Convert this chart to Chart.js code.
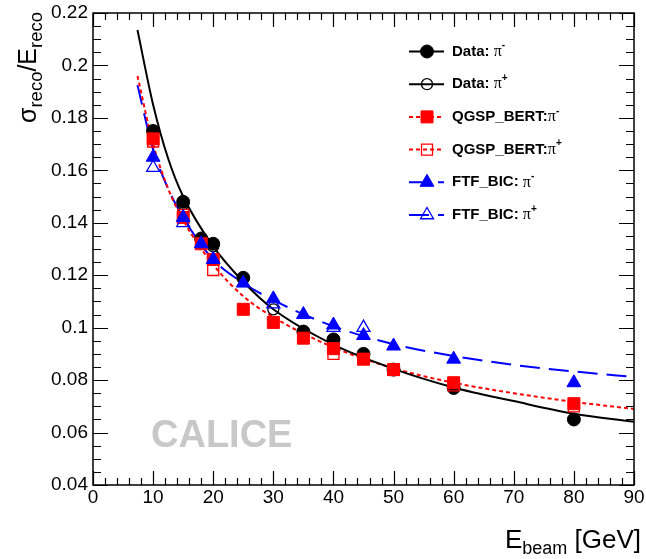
<!DOCTYPE html>
<html>
<head>
<meta charset="UTF-8">
<title>Energy resolution</title>
<style>
  html, body { margin: 0; padding: 0; background: #fff; }
  canvas { display: block; }
</style>
</head>
<body>
<canvas id="c" width="646" height="559"></canvas>
<script src="https://cdn.jsdelivr.net/npm/chart.js"></script>
<script>
// measured points
const dataMinusE = [10, 15, 18, 20, 25, 35, 40, 45, 50, 60, 80];
const dataMinus  = [0.175, 0.148, 0.134, 0.132, 0.119, 0.0985, 0.0955, 0.090, 0.084, 0.077, 0.065];
const dataPlusE  = [10, 15, 20, 30, 40, 50];
const dataPlus   = [0.174, 0.147, 0.131, 0.107, 0.094, 0.084];

const qgspMinusE = [10, 15, 18, 20, 25, 30, 35, 40, 45, 50, 60, 80];
const qgspMinus  = [0.172, 0.142, 0.132, 0.126, 0.107, 0.102, 0.096, 0.092, 0.088, 0.084, 0.079, 0.071];
const qgspPlusE  = [10, 15, 20, 40, 45, 50, 60, 80];
const qgspPlus   = [0.171, 0.143, 0.122, 0.090, 0.088, 0.084, 0.078, 0.070];

const ftfMinusE  = [10, 15, 18, 20, 25, 30, 35, 40, 45, 50, 60, 80];
const ftfMinus   = [0.165, 0.142, 0.132, 0.126, 0.117, 0.111, 0.105, 0.101, 0.097, 0.093, 0.088, 0.079];
const ftfPlusE   = [10, 15, 30, 40, 45];
const ftfPlus    = [0.161, 0.140, 0.109, 0.100, 0.100];

// fitted curves
const fitE    = [7.4, 10, 12.5, 15, 20, 25, 30, 40, 50, 60, 70, 80, 90];
const dataFit = [0.2135, 0.185, 0.1645, 0.150, 0.131, 0.1175, 0.107, 0.0935, 0.0843, 0.0772, 0.0720, 0.0672, 0.0641];
const qgspFit = [0.196, 0.170, 0.153, 0.141, 0.124, 0.112, 0.104, 0.0925, 0.0845, 0.079, 0.075, 0.0717, 0.069];
const ftfFit  = [0.1925, 0.168, 0.153, 0.142, 0.126, 0.117, 0.1105, 0.1005, 0.0937, 0.0892, 0.0858, 0.0833, 0.0812];

// axis ticks
const xTickVals   = [0, 10, 20, 30, 40, 50, 60, 70, 80, 90];
const xTickLabels = ['0', '10', '20', '30', '40', '50', '60', '70', '80', '90'];
const yTickVals   = [0.04, 0.06, 0.08, 0.10, 0.12, 0.14, 0.16, 0.18, 0.20, 0.22];
const yTickLabels = ['0.04', '0.06', '0.08', '0.1', '0.12', '0.14', '0.16', '0.18', '0.2', '0.22'];

const SANS = '"Liberation Sans", Arial, Helvetica, sans-serif';
const SERIF = '"Liberation Serif", "Times New Roman", serif';
const RED = '#ff0000', BLUE = '#0000ff', BLACK = '#000000';
const NONE = 'rgba(0,0,0,0)';

const pts = (xs, ys) => xs.map((x, i) => ({ x: x, y: ys[i] }));

function curve(xs, ys, color, dash, order) {
  return {
    data: pts(xs, ys), showLine: true, pointRadius: 0, borderColor: color,
    borderWidth: 2, borderDash: dash, cubicInterpolationMode: 'monotone',
    fill: false, order: order
  };
}
function marks(xs, ys, color, style, radius, filled, order) {
  return {
    data: pts(xs, ys), showLine: false, pointStyle: style, pointRadius: radius,
    backgroundColor: filled ? color : NONE, borderColor: color,
    borderWidth: filled ? 1 : 1.3, order: order
  };
}

// legend rows: [text, charge, marker style, color, filled, dash]
const legendRows = [
  ['Data: ', '-', 'circle', BLACK, true, []],
  ['Data: ', '+', 'circle', BLACK, false, []],
  ['QGSP_BERT:', '-', 'rect', RED, true, [4, 3]],
  ['QGSP_BERT:', '+', 'rect', RED, false, [4, 3]],
  ['FTF_BIC: ', '-', 'triangle', BLUE, true, [20, 9]],
  ['FTF_BIC: ', '+', 'triangle', BLUE, false, [20, 9]]
];

function drawMarker(ctx, style, x, y, color, filled) {
  ctx.save();
  ctx.fillStyle = color; ctx.strokeStyle = color;
  ctx.lineWidth = filled ? 1 : 1.3;
  ctx.setLineDash([]);
  ctx.beginPath();
  if (style === 'circle') {
    ctx.arc(x, y, filled ? 6.5 : 5.5, 0, Math.PI * 2);
  } else if (style === 'rect') {
    const s = filled ? 6 : 5.5;
    ctx.rect(x - s, y - s, 2 * s, 2 * s);
  } else {
    const r = filled ? 8 : 7.5;
    ctx.moveTo(x, y - r);
    ctx.lineTo(x + r * 0.866, y + r * 0.5);
    ctx.lineTo(x - r * 0.866, y + r * 0.5);
    ctx.closePath();
  }
  if (filled) ctx.fill();
  ctx.stroke();
  ctx.restore();
}

// draw a run of text pieces [text, font, dy]
function rich(ctx, parts, x, y, measureOnly) {
  let w = 0;
  for (const p of parts) {
    ctx.font = p[1];
    if (!measureOnly) ctx.fillText(p[0], x + w, y + p[2]);
    w += ctx.measureText(p[0]).width;
  }
  return w;
}

const rootFrame = {
  id: 'rootFrame',
  beforeDatasetsDraw(chart) {
    const ctx = chart.ctx;
    ctx.save();
    ctx.fillStyle = '#c8c8c8';
    ctx.font = 'bold 38px ' + SANS;
    ctx.textBaseline = 'alphabetic';
    ctx.fillText('CALICE', 151, 447);
    ctx.restore();
  },
  afterDatasetsDraw(chart) {
    const ctx = chart.ctx, a = chart.chartArea;
    const xs = chart.scales.x, ys = chart.scales.y;
    ctx.save();
    ctx.strokeStyle = BLACK;
    ctx.lineWidth = 1.5;
    ctx.setLineDash([]);
    ctx.strokeRect(a.left, a.top, a.right - a.left, a.bottom - a.top);

    // inward ticks on all four sides
    ctx.lineWidth = 1.2;
    ctx.beginPath();
    for (let i = 0; i <= 45; i++) {
      const px = Math.round(xs.getPixelForValue(i * 2)) + 0.5;
      const len = i % 5 === 0 ? 14 : 7;
      ctx.moveTo(px, a.bottom); ctx.lineTo(px, a.bottom - len);
      ctx.moveTo(px, a.top); ctx.lineTo(px, a.top + len);
    }
    for (let i = 0; i <= 36; i++) {
      const py = Math.round(ys.getPixelForValue(0.04 + i * 0.005)) + 0.5;
      const len = i % 4 === 0 ? 15 : 8;
      ctx.moveTo(a.left, py); ctx.lineTo(a.left + len, py);
      ctx.moveTo(a.right, py); ctx.lineTo(a.right - len, py);
    }
    ctx.stroke();

    // tick labels
    ctx.fillStyle = BLACK;
    ctx.font = '19px ' + SANS;
    ctx.textAlign = 'center'; ctx.textBaseline = 'top';
    xTickVals.forEach((v, i) => ctx.fillText(xTickLabels[i], xs.getPixelForValue(v), a.bottom + 3));
    ctx.textAlign = 'right'; ctx.textBaseline = 'middle';
    yTickVals.forEach((v, i) => ctx.fillText(yTickLabels[i], a.left - 5, ys.getPixelForValue(v)));

    // axis titles
    ctx.textAlign = 'left'; ctx.textBaseline = 'alphabetic';
    const xt = [['E', '26px ' + SANS, 0], ['beam', '18px ' + SANS, 6], [' [GeV]', '26px ' + SANS, 0]];
    const wx = rich(ctx, xt, 0, 0, true);
    rich(ctx, xt, 641 - wx, 548, false);

    ctx.save();
    ctx.translate(36, 123);
    ctx.rotate(-Math.PI / 2);
    rich(ctx, [['\u03c3', '25px ' + SANS, 0], ['reco', '18.5px ' + SANS, 6],
               ['/E', '25px ' + SANS, 0], ['reco', '18.5px ' + SANS, 6]], 0, 0, false);
    ctx.restore();

    // legend
    legendRows.forEach((r, i) => {
      const y = 51.5 + i * 32.7;
      ctx.save();
      ctx.strokeStyle = r[3];
      ctx.lineWidth = 2;
      ctx.setLineDash(r[5]);
      ctx.beginPath();
      ctx.moveTo(409, y); ctx.lineTo(444, y);
      ctx.stroke();
      ctx.restore();
      drawMarker(ctx, r[2], 427, y, r[3], r[4]);
      ctx.fillStyle = BLACK;
      ctx.textBaseline = 'middle';
      rich(ctx, [[r[0], 'bold 15px ' + SANS, 0], ['\u03c0', '16px ' + SERIF, 0],
                 [r[1], 'bold 10px ' + SANS, -6]], 452, y, false);
    });
    ctx.restore();
  }
};

new Chart(document.getElementById('c'), {
  type: 'scatter',
  data: {
    datasets: [
      curve(fitE, dataFit, BLACK, [], 10),
      curve(fitE, qgspFit, RED, [4, 3], 10),
      curve(fitE, ftfFit, BLUE, [20, 9], 10),
      marks(dataMinusE, dataMinus, BLACK, 'circle', 6.5, true, 6),
      marks(dataPlusE, dataPlus, BLACK, 'circle', 5.5, false, 5),
      marks(qgspMinusE, qgspMinus, RED, 'rect', 8.5, true, 4),
      marks(qgspPlusE, qgspPlus, RED, 'rect', 7.8, false, 3),
      marks(ftfMinusE, ftfMinus, BLUE, 'triangle', 8, true, 2),
      marks(ftfPlusE, ftfPlus, BLUE, 'triangle', 7.5, false, 1)
    ]
  },
  options: {
    responsive: false,
    animation: false,
    layout: { padding: { left: 93, top: 13, right: 12, bottom: 74 } },
    scales: {
      x: { type: 'linear', min: 0, max: 90, display: false },
      y: { type: 'linear', min: 0.04, max: 0.22, display: false }
    },
    plugins: { legend: { display: false }, tooltip: { enabled: false } }
  },
  plugins: [rootFrame]
});
</script>
</body>
</html>
